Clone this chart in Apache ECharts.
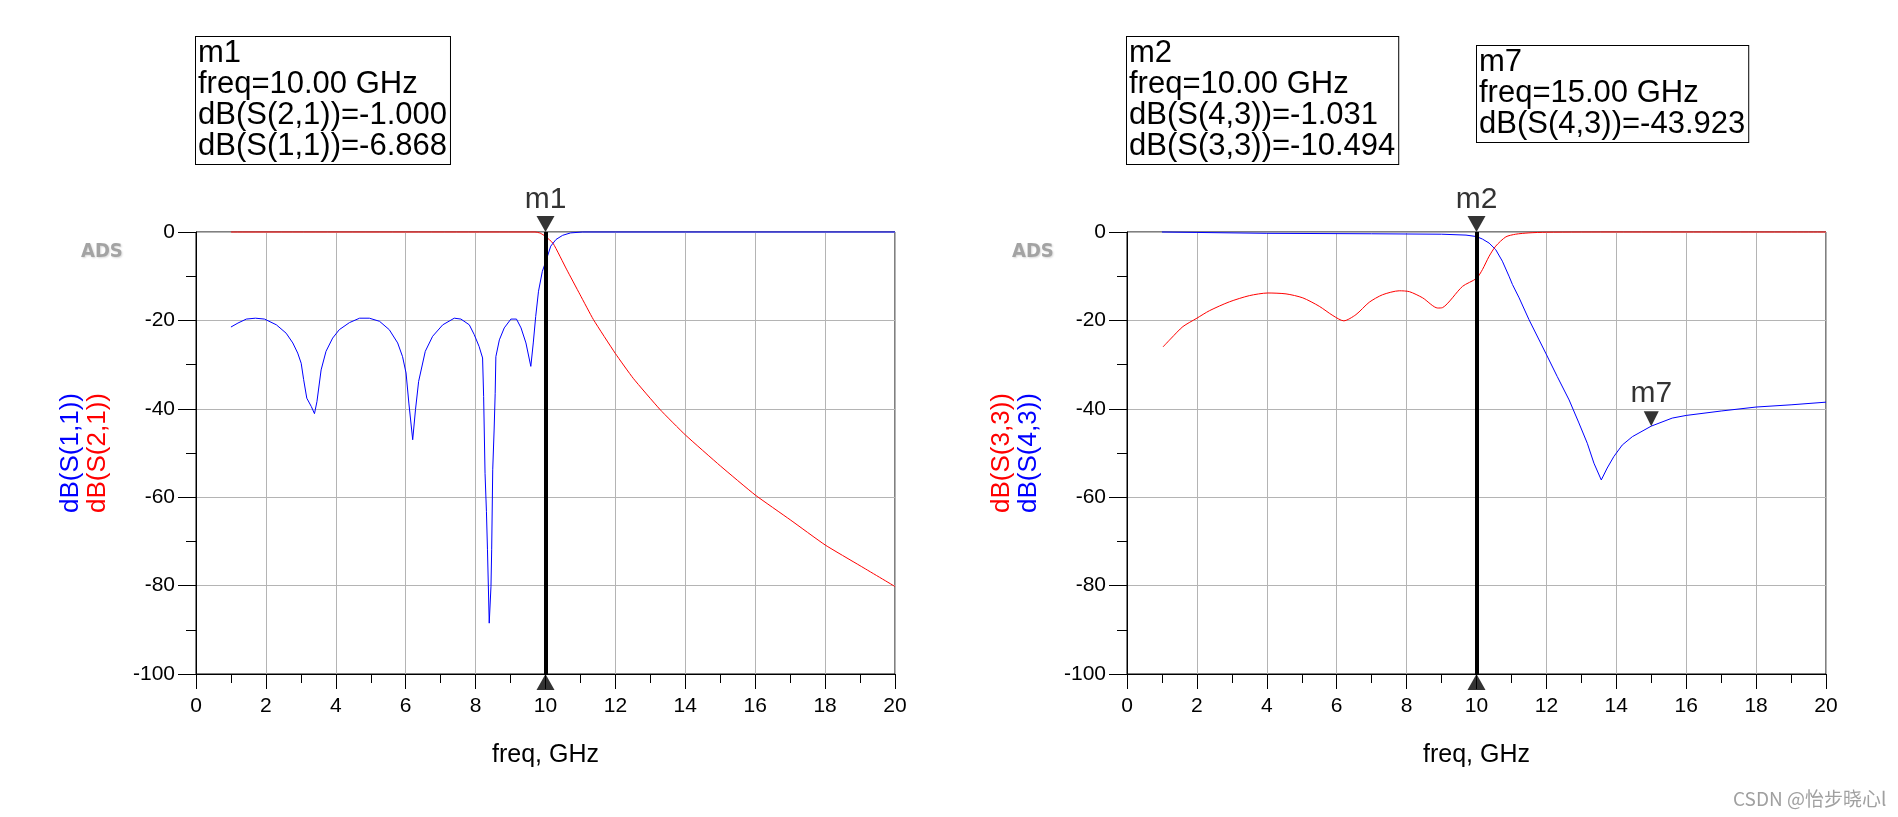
<!DOCTYPE html>
<html><head><meta charset="utf-8">
<script src="https://cdn.jsdelivr.net/npm/echarts@6/dist/echarts.min.js"></script>
<style>html,body{margin:0;padding:0;background:#fff}#c{width:1898px;height:817px}</style>
</head><body><div id="c"></div>
<script>
// ---------- data ----------
// Left plot: S(1,1) blue, S(2,1) red
const s11Freq = [1.0,1.2,1.44,1.70,1.96,2.30,2.58,2.77,2.91,3.01,3.08,3.17,3.30,3.39,3.46,3.58,3.72,3.91,4.10,4.39,4.68,4.96,5.25,5.53,5.77,5.91,6.01,6.09,6.20,6.28,6.37,6.56,6.77,7.06,7.39,7.58,7.82,7.96,8.10,8.20,8.23,8.27,8.31,8.34,8.39,8.44,8.46,8.49,8.53,8.56,8.58,8.68,8.82,9.01,9.17,9.30,9.44,9.58,9.65,9.72,9.80,9.91,10.0,10.15,10.30,10.49,10.72,11.06,12,14,16,18,20];
const s11Db = [-21.5,-20.6,-19.7,-19.5,-19.7,-21.0,-22.9,-25.1,-27.4,-29.7,-33.4,-37.6,-39.5,-41.1,-38.4,-31.2,-27.0,-24.0,-22.1,-20.5,-19.5,-19.5,-20.2,-22.1,-25.1,-28.2,-31.9,-38.7,-47.0,-40.2,-33.8,-27.0,-23.6,-21.0,-19.5,-19.7,-21.0,-23.2,-25.9,-28.5,-37.2,-54.6,-63.2,-71.9,-88.5,-80.2,-71.9,-53.8,-44.8,-36.5,-28.2,-24.4,-21.7,-19.7,-19.7,-21.7,-25.1,-30.4,-25.1,-19.1,-13.4,-8.9,-6.868,-3.2,-1.7,-0.75,-0.2,0,0,0,0,0,0];
const s21Freq = [1,9.7,9.85,10,10.22,10.6,10.99,11.37,12,12.51,13.27,14,15,16,17,18,19,20];
const s21Db = [0,0,-0.25,-1.0,-2.6,-8.4,-14.2,-19.8,-27.5,-33.1,-40.1,-45.9,-52.9,-59.5,-65.1,-70.8,-75.5,-80.2];
// Right plot: S(3,3) red, S(4,3) blue
const s33Freq = [1.03,1.27,1.6,2,2.36,2.93,3.5,4.03,4.55,5.03,5.5,5.89,6.2,6.55,6.93,7.31,7.79,8.08,8.46,8.89,9.03,9.6,10,10.17,10.36,10.55,10.84,11.12,11.5,12,14,16,18,20];
const s33Db = [-26.0,-24.0,-21.4,-19.5,-17.8,-15.8,-14.4,-13.8,-14.0,-14.9,-16.8,-18.9,-20.1,-18.7,-15.9,-14.2,-13.3,-13.5,-14.9,-17.2,-17.1,-12.3,-10.494,-8.5,-5.5,-3.2,-1.1,-0.5,-0.2,-0.05,0,0,0,0];
const s43Freq = [1,2,4,7,9,9.7,10,10.17,10.36,10.55,10.74,10.93,11.03,11.22,11.5,11.98,12.31,12.65,12.93,13.17,13.36,13.57,13.74,13.93,14.17,14.46,15,15.6,16,17,18,19,20];
const s43Db = [0,-0.1,-0.3,-0.4,-0.5,-0.7,-1.031,-1.6,-2.5,-4.0,-6.6,-10.0,-11.9,-14.9,-19.8,-27.4,-32.7,-38.0,-43.2,-47.8,-52.3,-56.1,-53.4,-50.8,-48.2,-46.3,-43.923,-42.1,-41.5,-40.5,-39.6,-39.1,-38.5];

// markers
const m1Freq = 10, m2Freq = 10, m7Freq = 15, m7Db = -43.923;
const m1Lines = ['m1','freq=10.00 GHz','dB(S(2,1))=-1.000','dB(S(1,1))=-6.868'];
const m2Lines = ['m2','freq=10.00 GHz','dB(S(4,3))=-1.031','dB(S(3,3))=-10.494'];
const m7Lines = ['m7','freq=15.00 GHz','dB(S(4,3))=-43.923'];

// axes
const xMin = 0, xMax = 20, xStep = 2;
const yMin = -100, yMax = 0, yStep = 20;
const xTitle = 'freq, GHz';
const leftYTitles = ['dB(S(1,1))','dB(S(2,1))'];
const rightYTitles = ['dB(S(3,3))','dB(S(4,3))'];

// ---------- chart ----------
const FONT = '"Liberation Sans", Arial, sans-serif';
const BLUE = '#0000ff', RED = '#ff0000', GRID = '#b4b4b4';
const pairs = (f, d) => f.map((x, i) => [x, d[i]]);

function xAx(gi) {
  return {
    type: 'value', gridIndex: gi, min: xMin, max: xMax, interval: xStep,
    axisLine: {show: true, onZero: false, lineStyle: {color: '#000', width: 1}},
    axisTick: {show: true, length: 15, lineStyle: {color: '#000', width: 1}},
    minorTick: {show: true, splitNumber: 2, length: 9, lineStyle: {color: '#000', width: 1}},
    splitLine: {show: true, lineStyle: {color: GRID, width: 1}},
    axisLabel: {color: '#000', fontSize: 21, fontFamily: FONT, margin: 22, showMinLabel: true, showMaxLabel: true},
    name: xTitle, nameLocation: 'middle', nameGap: 69,
    nameTextStyle: {color: '#000', fontSize: 25, fontFamily: FONT}
  };
}
function yAx(gi, titles, colors) {
  return {
    type: 'value', gridIndex: gi, min: yMin, max: yMax, interval: yStep,
    axisLine: {show: true, onZero: false, lineStyle: {color: '#000', width: 1}},
    axisTick: {show: true, length: 18, lineStyle: {color: '#000', width: 1}},
    minorTick: {show: true, splitNumber: 2, length: 10, lineStyle: {color: '#000', width: 1}},
    splitLine: {show: true, lineStyle: {color: GRID, width: 1}},
    axisLabel: {color: '#000', fontSize: 21, fontFamily: FONT, margin: 21, showMinLabel: true, showMaxLabel: true},
    name: '{a|' + titles[0] + '}\n{b|' + titles[1] + '}',
    nameLocation: 'middle', nameRotate: 90, nameGap: 85,
    nameTextStyle: {
      fontFamily: FONT,
      rich: {
        a: {color: colors[0], fontSize: 26, lineHeight: 27, fontFamily: FONT},
        b: {color: colors[1], fontSize: 26, lineHeight: 27, fontFamily: FONT}
      }
    }
  };
}
function curve(gi, data, color, z, smooth) {
  return {
    type: 'line', xAxisIndex: gi, yAxisIndex: gi, data: data,
    symbol: 'none', showSymbol: false, smooth: smooth || false, clip: false,
    lineStyle: {color: color, width: 1}, itemStyle: {color: color}, z: z,
    silent: true
  };
}
function vMarker(gi, f, name) {
  return {
    type: 'scatter', xAxisIndex: gi, yAxisIndex: gi, z: 10, silent: true,
    symbol: 'triangle', symbolSize: [18, 16], itemStyle: {color: '#000'},
    data: [
      {value: [f, yMax], symbolRotate: 180, symbolOffset: [0, -8],
       label: {show: true, position: 'top', distance: 1, formatter: name, color: '#000', fontSize: 30, fontFamily: FONT}},
      {value: [f, yMin], symbolRotate: 0, symbolOffset: [0, 8], label: {show: false}}
    ],
    markLine: {
      silent: true, symbol: ['none', 'none'], label: {show: false}, animation: false,
      lineStyle: {color: '#000', width: 4, type: 'solid'},
      data: [{xAxis: f}]
    }
  };
}
function box(x, y, lines) {
  return {
    type: 'text', x: x, y: y, z: 20,
    style: {
      text: lines.join('\n'), font: '31px ' + FONT, fill: '#000', lineHeight: 31,
      backgroundColor: '#fff', borderColor: '#000', borderWidth: 1, padding: [1, 3, 2, 2]
    }
  };
}
function adsMark(x, y) {
  return {
    type: 'text', x: x, y: y, z: 5,
    style: {
      text: 'ADS', font: 'bold 20px "Liberation Sans Narrow", "DejaVu Sans Condensed", sans-serif',
      fill: '#a3a3a3', textShadowColor: '#d8d8d8', textShadowBlur: 2, textShadowOffsetX: 1, textShadowOffsetY: 1
    }
  };
}

const option = {
  animation: false,
  backgroundColor: '#fff',
  grid: [
    {left: 196, top: 232, width: 699, height: 442, show: true, borderColor: '#000', borderWidth: 1, backgroundColor: '#fff'},
    {left: 1127, top: 232, width: 699, height: 442, show: true, borderColor: '#000', borderWidth: 1, backgroundColor: '#fff'}
  ],
  xAxis: [xAx(0), xAx(1)],
  yAxis: [yAx(0, leftYTitles, [BLUE, RED]), yAx(1, rightYTitles, [RED, BLUE])],
  series: [
    curve(0, pairs(s21Freq, s21Db), RED, 3, 0.15),
    curve(0, pairs(s11Freq, s11Db), BLUE, 4, false),
    curve(1, pairs(s43Freq, s43Db), BLUE, 3, false),
    curve(1, pairs(s33Freq, s33Db), RED, 4, 0.25),
    vMarker(0, m1Freq, 'm1'),
    vMarker(1, m2Freq, 'm2'),
    {
      type: 'scatter', xAxisIndex: 1, yAxisIndex: 1, z: 10, silent: true,
      symbol: 'triangle', symbolSize: [15, 15], itemStyle: {color: '#000'},
      data: [{value: [m7Freq, m7Db], symbolRotate: 180, symbolOffset: [0, -7.5],
        label: {show: true, position: 'top', distance: 2, formatter: 'm7', color: '#000', fontSize: 30, fontFamily: FONT}}]
    }
  ],
  graphic: [
    box(196, 37, m1Lines),
    box(1127, 37, m2Lines),
    box(1477, 46, m7Lines),
    adsMark(81, 242),
    adsMark(1012, 242),
    {type: 'text', x: 1733, y: 789, z: 5,
     style: {text: 'CSDN @怡步晓心l', font: '19px "Noto Sans CJK SC", sans-serif', fill: '#a0a0a0'}}
  ]
};
const chart = echarts.init(document.getElementById('c'), null, {renderer: 'canvas'});
chart.setOption(option);
</script>
</body></html>
